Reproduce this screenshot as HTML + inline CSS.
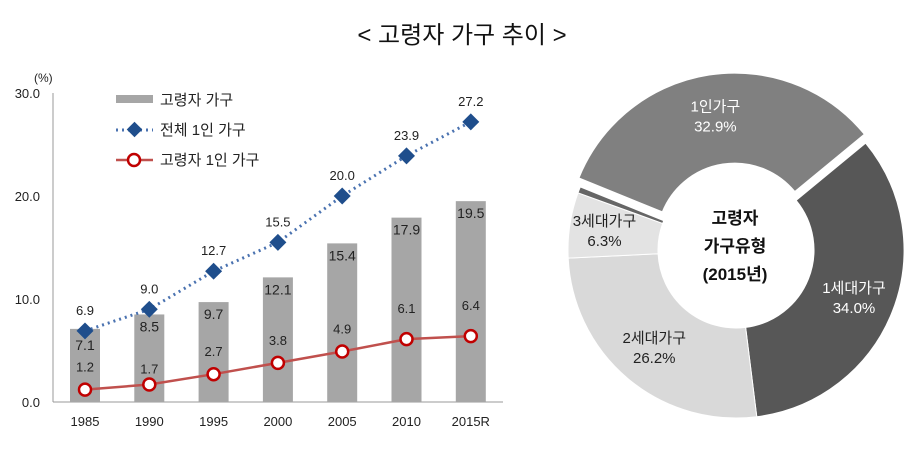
<!DOCTYPE html>
<html><head><meta charset="utf-8"><style>
body{margin:0;background:#fff;width:922px;height:445px;overflow:hidden;font-family:"Liberation Sans","Noto Sans CJK KR",sans-serif}
</style></head><body>
<svg width="922" height="445" xmlns="http://www.w3.org/2000/svg" font-family="Liberation Sans, Noto Sans CJK KR, sans-serif">
<text x="462" y="43" text-anchor="middle" font-size="24" fill="#111">&lt; 고령자 가구 추이 &gt;</text>
<g id="left"></g>
<g id="donut"></g>
</svg>
<script>
const categories=["1985","1990","1995","2000","2005","2010","2015R"];
const elderHH=[7.1,8.5,9.7,12.1,15.4,17.9,19.5];
const allSingle=[6.9,9.0,12.7,15.5,20.0,23.9,27.2];
const elderSingle=[1.2,1.7,2.7,3.8,4.9,6.1,6.4];
const yTicks=[0,10,20,30];
const pieLabels=["1세대가구","2세대가구","3세대가구","기타","1인가구"];
const pieValues=[34.0,26.2,6.3,0.6,32.9];
const NS="http://www.w3.org/2000/svg";
function mk(p,t,a,txt){const e=document.createElementNS(NS,t);for(const k in a)e.setAttribute(k,a[k]);if(txt!=null)e.textContent=txt;p.appendChild(e);return e;}
const L=document.getElementById('left');
const X=i=>85+i*64.3, Y=v=>402-v*10.3;
const ya=mk(L,'line',{x1:53,y1:Y(30),x2:53,y2:402,stroke:'#999'});

const xa=mk(L,'line',{x1:53,y1:402,x2:503,y2:402,stroke:'#999'});

yTicks.forEach(t=>{const e=mk(L,'text',{x:40,y:Y(t)+5,'text-anchor':'end','font-size':13,fill:'#222'},t.toFixed(1));
});
const u=mk(L,'text',{x:34,y:82,'font-size':12,fill:'#222'},'(%)');

categories.forEach((c,i)=>{
const b=mk(L,'rect',{x:X(i)-15,y:Y(elderHH[i]),width:30,height:402-Y(elderHH[i]),fill:'#a6a6a6'});

const bl=mk(L,'text',{x:X(i),y:Y(elderHH[i])+(i==0?21:17),'text-anchor':'middle','font-size':14,fill:'#222'},elderHH[i].toFixed(1));

const xl=mk(L,'text',{x:X(i),y:426,'text-anchor':'middle','font-size':13,fill:'#222'},c);

});
const p1=mk(L,'polyline',{points:allSingle.map((v,i)=>X(i)+','+Y(v)).join(' '),fill:'none',stroke:'#4a72b0','stroke-width':3,'stroke-dasharray':'2 4'});

const p2=mk(L,'polyline',{points:elderSingle.map((v,i)=>X(i)+','+Y(v)).join(' '),fill:'none',stroke:'#c0504d','stroke-width':2.5});

allSingle.forEach((v,i)=>{
const d=mk(L,'rect',{x:X(i)-6,y:Y(v)-6,width:12,height:12,fill:'#1f4e8c',transform:`rotate(45 ${X(i)} ${Y(v)})`});

const t=mk(L,'text',{x:X(i),y:Y(v)-16,'text-anchor':'middle','font-size':13,fill:'#222'},v.toFixed(1));

});
elderSingle.forEach((v,i)=>{
const c=mk(L,'circle',{cx:X(i),cy:Y(v),r:6,fill:'#fff',stroke:'#c00000','stroke-width':2.5});

const t=mk(L,'text',{x:X(i),y:Y(v)-(i==1?11:i>=5?26:18),'text-anchor':'middle','font-size':13,fill:'#222'},v.toFixed(1));

});
const lg=mk(L,'g',{});
mk(lg,'rect',{x:116,y:95,width:37,height:8,fill:'#a6a6a6'});
mk(lg,'text',{x:160,y:105,'font-size':15,fill:'#222'},'고령자 가구');
mk(lg,'line',{x1:116,y1:130,x2:153,y2:130,stroke:'#4a72b0','stroke-width':3,'stroke-dasharray':'2 4'});
mk(lg,'rect',{x:129,y:124,width:11,height:11,fill:'#1f4e8c',transform:'rotate(45 134.5 129.5)'});
mk(lg,'text',{x:160,y:135,'font-size':15,fill:'#222'},'전체 1인 가구');
mk(lg,'line',{x1:116,y1:160,x2:153,y2:160,stroke:'#c0504d','stroke-width':2.5});
mk(lg,'circle',{cx:134,cy:160,r:6,fill:'#fff',stroke:'#c00000','stroke-width':2.5});
mk(lg,'text',{x:160,y:165,'font-size':15,fill:'#222'},'고령자 1인 가구');
const D=document.getElementById('donut');
const cx=736,cy=250,R=168,r=78,start=50.5;
const cols=['#575757','#d9d9d9','#e3e3e3','#666','#808080'];
const txtCol=['#fff','#222','#222','#222','#fff'];
const tot=pieValues.reduce((a,b)=>a+b,0);
let a0=start;
const pt=(a,rad,ox,oy)=>[cx+ox+rad*Math.sin(a*Math.PI/180),cy+oy-rad*Math.cos(a*Math.PI/180)];
pieValues.forEach((v,i)=>{
const a1=a0+v/tot*360, mid=(a0+a1)/2;
const off=i==4?9:0, ox=off*Math.sin(mid*Math.PI/180), oy=-off*Math.cos(mid*Math.PI/180);
const [x1,y1]=pt(a0,R,ox,oy),[x2,y2]=pt(a1,R,ox,oy),[x3,y3]=pt(a1,r,ox,oy),[x4,y4]=pt(a0,r,ox,oy);
const lf=(a1-a0)>180?1:0;
const p=mk(D,'path',{d:`M${x1},${y1}A${R},${R} 0 ${lf} 1 ${x2},${y2}L${x3},${y3}A${r},${r} 0 ${lf} 0 ${x4},${y4}Z`,fill:cols[i],stroke:'#fff','stroke-width':1});

if(v>=2){
const lr=i==2?(R+r)/2+10:(R+r)/2+4;
const [lx,ly]=pt(mid,lr,ox,oy);
const t1=mk(D,'text',{x:lx,y:ly-4,'text-anchor':'middle','font-size':15,fill:txtCol[i]},pieLabels[i]);

const t2=mk(D,'text',{x:lx,y:ly+16,'text-anchor':'middle','font-size':15,fill:txtCol[i]},v.toFixed(1)+'%');

}
a0=a1;
});
['고령자','가구유형','(2015년)'].forEach((s,i)=>{
const t=mk(D,'text',{x:735,y:224+i*28,'text-anchor':'middle','font-size':17,'font-weight':'bold',fill:'#111'},s);

});
</script>
</body></html>
